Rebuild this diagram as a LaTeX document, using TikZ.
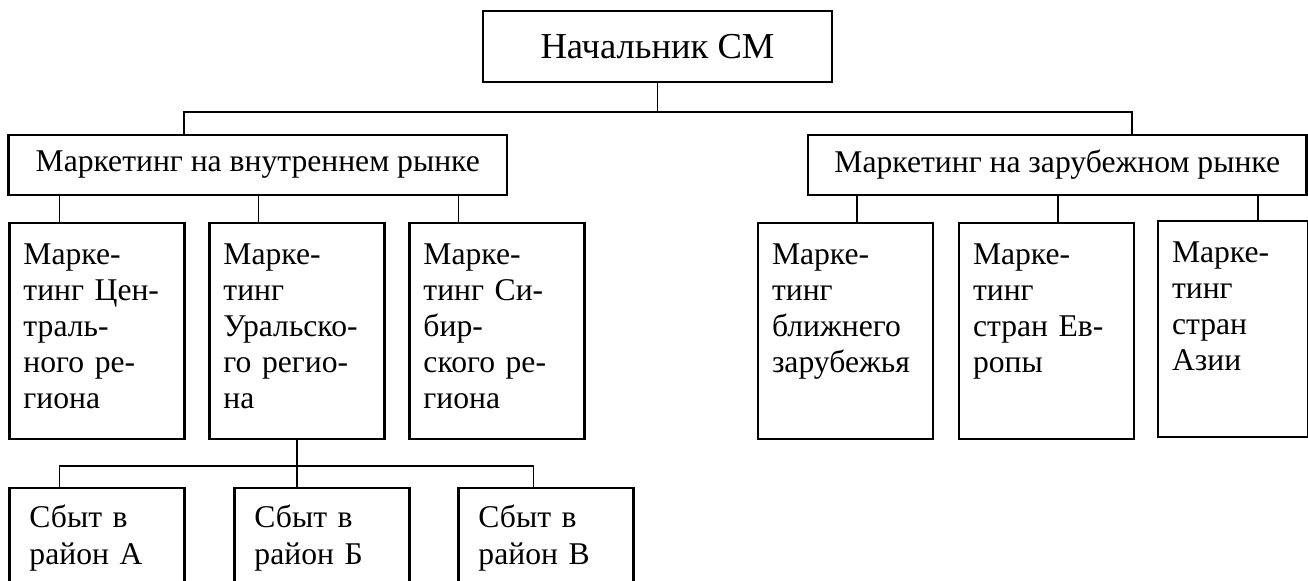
\documentclass[tikz,border=0pt]{standalone}
\usepackage{fontspec}
\setmainfont{Liberation Serif}
\usetikzlibrary{positioning}

\begin{document}
\begin{tikzpicture}[
  head/.style={rectangle, draw, line width=0.65pt, outer sep=0pt,
               minimum width=34.9mm, minimum height=7.1mm,
               font=\fontsize{10.4pt}{12pt}\selectfont},
  dept/.style={rectangle, draw, line width=0.65pt, outer sep=0pt,
               minimum width=49.85mm, minimum height=6mm,
               font=\fontsize{9pt}{11pt}\selectfont},
  unit/.style={rectangle, draw, line width=0.65pt, outer sep=0pt,
               text width=#1, align=left, inner xsep=1.4mm, inner ysep=0pt,
               text height=4.1mm, text depth=17.5mm,
               font=\fontsize{9pt}{3.6mm}\selectfont},
  unit/.default=14.7mm,
  sale/.style={unit=13.5mm, inner xsep=2mm, text height=3.9mm, text depth=9.1mm,
               font=\fontsize{9pt}{3.7mm}\selectfont},
  link/.style={line width=0.5pt},
]
\path[use as bounding box, clip] (-65.75mm,4.65mm) rectangle (65.05mm,-53.35mm);

\node[head] (chief) {Начальник СМ};
\node[dept, below left=5.3mm and 15.05mm of chief.south]  (inner) {Маркетинг на внутреннем рынке};
\node[dept, below right=5.3mm and 15.05mm of chief.south] (outer) {Маркетинг на зарубежном рынке};

% regions
\node[unit, below right=2.8mm and 0.1mm of inner.south west] (cen) {Марке-\\тинг~Цен-\\траль-\\ного~ре-\\гиона};
\node[unit, right=2.5mm of cen]  (ural) {Марке-\\тинг\\Уральско-\\го~регио-\\на};
\node[unit, right=2.5mm of ural] (sib)  {Марке-\\тинг~Си-\\бир-\\ского~ре-\\гиона};

% abroad
\node[unit, below=2.8mm of outer.south west, anchor=north west, xshift=-5mm] (near) {Марке-\\тинг\\ближнего\\зарубежья};
\node[unit, right=2.6mm of near] (eur) {Марке-\\тинг\\стран~Ев-\\ропы};
\node[unit=12.2mm, right=2.4mm of eur, yshift=0.2mm] (asia) {Марке-\\тинг\\стран\\Азии};

% sales
\node[sale, below=4.9mm of cen.south west, anchor=north west] (rayA) {Сбыт~в\\район~А};
\node[sale, right=5mm of rayA]   (rayB) {Сбыт~в\\район~Б};
\node[sale, right=4.9mm of rayB] (rayV) {Сбыт~в\\район~В};

\draw[link] (chief.south) -- ++(0,-3mm) coordinate (top);
\draw[link] ([xshift=-7.35mm]inner.north) |- (top) -| ([xshift=7.5mm]outer.north);
\foreach \n/\d in {cen/5mm, ural/4.9mm, sib/4.9mm}
  \draw[link] ([xshift=\d]\n.north west) -- ([xshift=\d]\n.north west |- inner.south);
\foreach \n/\d in {near/9.9mm, eur/9.9mm, asia/10mm}
  \draw[link] ([xshift=\d]\n.north west) -- ([xshift=\d]\n.north west |- outer.south);
\draw[link] (ural.south) -- (ural.south |- rayB.north);
\draw[link] ([xshift=5mm]rayA.north west) |- ([yshift=-2.7mm]ural.south) -| ([xshift=7.5mm]rayV.north west);
\end{tikzpicture}
\end{document}
